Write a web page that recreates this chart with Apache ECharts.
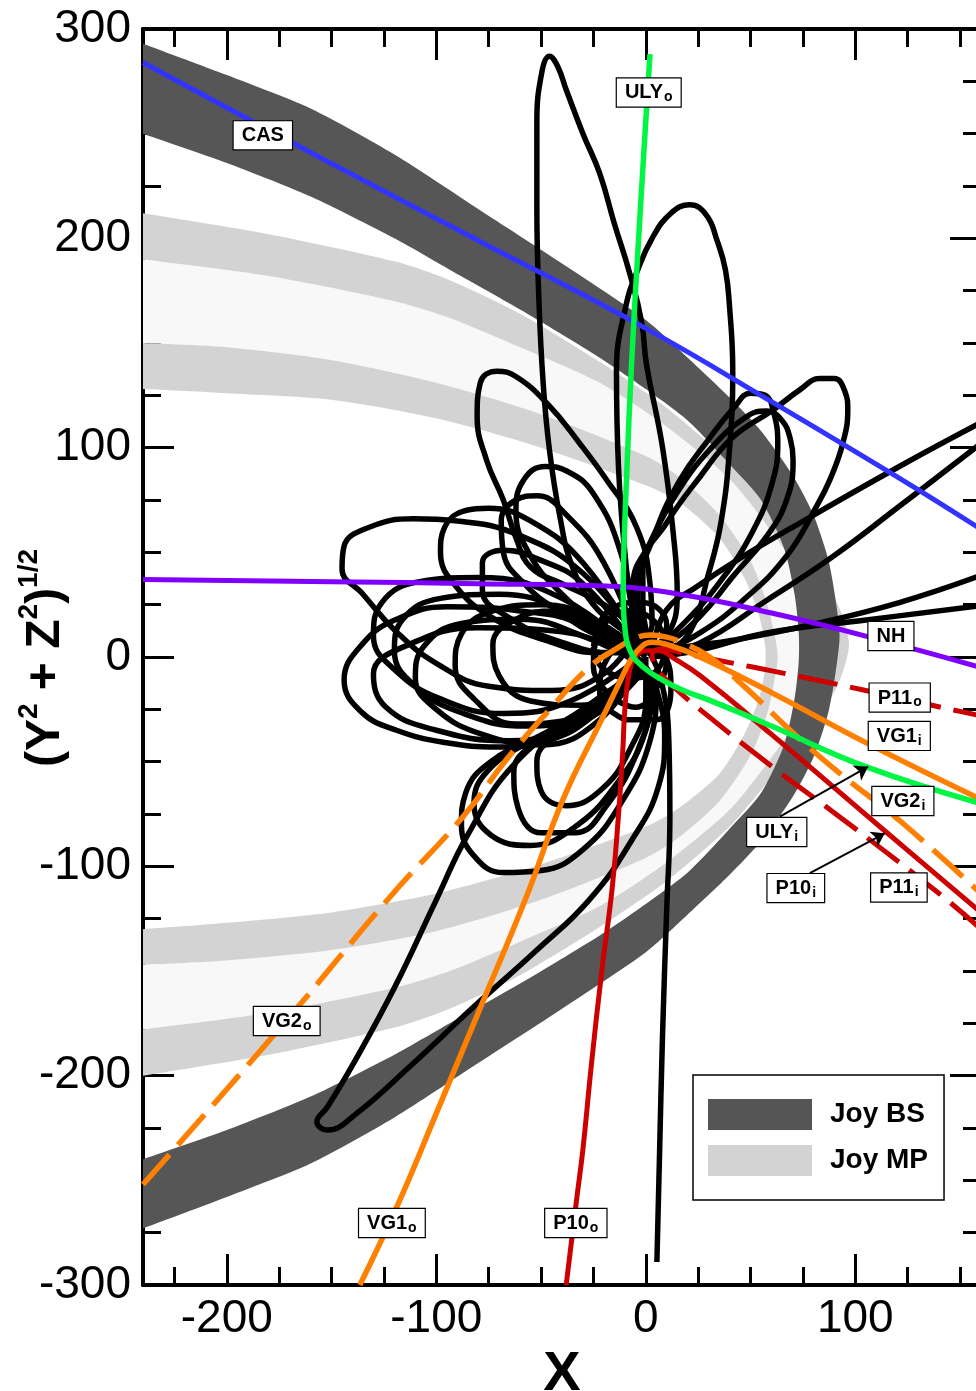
<!DOCTYPE html>
<html><head><meta charset="utf-8">
<script src="https://cdn.jsdelivr.net/npm/echarts@6/dist/echarts.min.js"></script>
<style>html,body{margin:0;padding:0;background:#fff;overflow:hidden;}#c{position:absolute;left:0;top:0;width:976px;height:1391px;}</style>
</head><body><div id="c"></div>
<script>
const FONT = '"Liberation Sans", Arial, Helvetica, sans-serif';

// ---- axis ticks / labels ----
const xLabelVals = [-200, -100, 0, 100];
const xMajorTicks = [-200, -100, 0, 100];
const xMinorTicks = [-225,-200,-175,-150,-125,-100,-75,-50,-25,0,25,50,75,100,125,150];
const yLabelVals = [-300, -200, -100, 0, 100, 200, 300];
const yMajorTicks = [-200, -100, 0, 100, 200];
const yMinorTicks = [-275,-250,-225,-200,-175,-150,-125,-100,-75,-50,-25,0,25,50,75,100,125,150,175,200,225,250,275];

// ---- Joy bow shock band ----
const bsOuterUpper = [[-248,296],[-240,293],[-200,278],[-160,262],[-120,240],[-80,214],[-40,188],[0,161],[20,143],[40,124],[55,108],[70,87],[80,68],[87,47],[90.5,28],[92.5,10]];
const bsOuterLower = [[90.5,-8],[87,-27],[80,-48],[70,-67],[55,-88],[40,-104],[20,-123],[0,-141],[-40,-168],[-80,-194],[-120,-220],[-160,-242],[-200,-258],[-240,-273],[-248,-276]];
const bsInnerUpper = [[-248,253],[-240,250],[-200,236],[-160,220],[-120,200],[-93.6,185],[-60,166],[-22,143],[0,128],[20,113],[41,91],[55,75],[66,52],[71,30],[73,12]];
const bsInnerLower = [[73,-2],[71,-20],[66,-42],[55,-65],[41,-81],[20,-103],[0,-118],[-22,-133],[-60,-156],[-93.6,-175],[-120,-190],[-160,-210],[-200,-226],[-240,-240],[-248,-243]];

// ---- Joy magnetopause bands ----
const mpBigOuter = [[-248,213],[-240,212],[-180,202],[-120,189],[-93.6,180],[-60,164],[-22,141],[10,119],[40,93],[62,67],[82,43],[93,22],[97,6],[93,-10],[82,-31],[62,-55],[40,-81],[10,-107],[-22,-129],[-60,-152],[-93.6,-168],[-120,-177],[-180,-190],[-240,-200],[-248,-201]];
const mpBigInner = [[-248,191],[-240,190],[-180,182],[-120,170],[-93.6,162],[-60,148],[-22,131],[10,110],[40,85],[60,60],[75,38],[84,19],[89,6],[84,-7],[75,-26],[60,-48],[40,-73],[10,-98],[-22,-119],[-60,-136],[-93.6,-150],[-120,-158],[-180,-170],[-240,-178],[-248,-179]];
const mpSmallOuter = [[-248,150],[-240,150],[-200,148],[-151,142],[-100,131],[-50,116],[0,96],[16,86],[35,68],[50,46],[58,25],[62,8],[63,0],[62,-8],[58,-27],[50,-47],[35,-69],[16,-86],[0,-96],[-50,-116],[-100,-131],[-150,-140],[-200,-145],[-240,-147],[-248,-147]];
const mpSmallInner = [[-248,128],[-240,128],[-200,126],[-151,123],[-100,114],[-50,100],[0,82],[16,74],[35,57],[47,38],[54,20],[57,5],[57,-5],[54,-20],[47,-37],[35,-56],[16,-72],[0,-81],[-50,-99],[-100,-113],[-150,-122],[-200,-127],[-240,-130],[-248,-130]];

// ---- black orbits ----
const orbitA = [[0,5],[-10,12],[-25,25],[-35,43],[-41,67],[-46,99],[-49,131],[-51,170],[-52,215],[-52,255],[-49.5,280],[-46,287],[-42,282],[-38,271],[-30,250],[-22,231],[-15,207],[-7.6,183],[-2,160],[0.3,140],[8,100],[13,60],[15,30],[10,10],[0,5]];
const orbitB = [[0,3],[-6,20],[-10,50],[-13,90],[-14,137],[-9,170],[-4.4,183.5],[3,200],[12,212],[21,216],[29,211],[34,199],[38,185],[40,167],[41.5,137],[40,100],[36,65],[30,40],[21,12],[10,4],[0,3]];
const orbitC = [[0,10],[-20,25],[-40,35],[-55,43],[-62,57],[-68,75],[-76,94],[-80.5,115],[-79,131],[-71,136.5],[-62,134],[-47,121],[-31.5,102],[-19,85],[-4.4,62],[2,35],[3,15],[0,10]];
const orbitD = [[3,3],[-1.4,25],[-1.4,43],[9.9,64],[25.8,86],[41.5,105],[60.7,118],[73.5,127.6],[83,133],[90,133],[95,127],[96.4,118],[94,102],[88,85],[81.5,72],[67,48],[46.3,27],[25.8,11.5],[10,4],[3,3]];
const orbitE = [[0,3],[-6,20],[-6,35],[2,54.5],[14.6,78],[30.5,99],[48,114.8],[57.6,117.5],[65,113],[69,104],[70.3,94],[67.2,75],[57.6,57.5],[41.5,38.4],[25.8,19.3],[8,5],[0,3]];
const orbitF = [[0,4],[-4,30],[4,58],[16,84],[30,104],[42,119],[50,126],[57,125],[61,117],[63,102],[60,82],[51,60],[37,38],[20,18],[6,6],[0,4]];
const rayA = [[3,3],[9.9,22.5],[25,34],[41.5,45],[73.5,64],[121,91],[160,112]];
const rayB = [[3,0],[25.8,6.7],[57.6,27],[89.3,48],[121,72],[160,102]];
const rayC = [[3,2],[20,5],[41.5,8],[81.5,16],[121,26],[160,39]];
const rayD = [[3,0],[25.8,3.3],[57.6,11.5],[105.3,17.7],[160,24.5]];
const loop1 = [[-5,10],[-30,40],[-60,58],[-90,65],[-111,66],[-132,62],[-144,53],[-145,42],[-135,30],[-119,12],[-100,-3],[-75,-14],[-45,-16],[-20,-8],[-5,10]];
const loop2 = [[-3,-5],[-30,15],[-60,22],[-95,24],[-119,18],[-135,6.5],[-144,-11],[-136,-26],[-119,-35],[-95,-41],[-71,-43],[-47,-40],[-25,-28],[-3,-5]];
const loop3 = [[-3,5],[-30,45],[-55,65],[-75,71],[-86,70],[-96,62],[-98,50],[-90,33],[-72,18],[-48,8],[-22,2],[-3,5]];
const loop4 = [[-3,5],[-20,45],[-38,68],[-52,77],[-62,75],[-69,65],[-68,50],[-58,35],[-42,22],[-22,10],[-3,5]];
const loop5 = [[-2,5],[-12,50],[-25,78],[-38,89],[-48,91],[-58,85],[-62,70],[-56,50],[-40,30],[-20,14],[-2,5]];
const loop6 = [[-3,2],[-30,35],[-52,47],[-68,51],[-78,45],[-78,32],[-64,18],[-40,7],[-15,2],[-3,2]];
const loop7 = [[-3,0],[-40,28],[-80,38],[-108,36],[-126,26],[-130,10],[-120,-6],[-98,-20],[-68,-27],[-36,-21],[-3,0]];
const loop8 = [[-3,0],[-35,20],[-70,30],[-98,28],[-116,18],[-120,3],[-110,-14],[-87,-27],[-57,-33],[-27,-25],[-3,0]];
const loop9 = [[-3,-3],[-30,10],[-60,18],[-88,16],[-106,5],[-110,-10],[-100,-25],[-78,-37],[-50,-42],[-22,-30],[-3,-3]];
const loop10 = [[0,0],[-25,18],[-50,25],[-73,22],[-88,11],[-91,-4],[-82,-20],[-62,-32],[-36,-30],[-12,-15],[0,0]];
const loop11 = [[0,-5],[-20,-25],[-50,-38],[-74,-50],[-86,-65],[-88,-80],[-82,-95],[-68,-103],[-50,-102],[-30,-92],[-12,-70],[2,-40],[5,-15],[0,-5]];
const loop12 = [[0,-5],[-25,-25],[-55,-40],[-76,-55],[-82,-70],[-74,-85],[-55,-90],[-35,-82],[-15,-62],[0,-35],[3,-12],[0,-5]];
const loop13 = [[0,-5],[-30,-25],[-52,-40],[-63,-55],[-61,-72],[-50,-84],[-34,-84],[-18,-70],[-4,-45],[2,-20],[0,-5]];
const loop14 = [[0,0],[-20,-20],[-40,-35],[-52,-50],[-50,-64],[-38,-71],[-22,-64],[-8,-45],[0,-20],[0,0]];
const loop15 = [[0,0],[-20,15],[-43,22],[-62,18],[-73,6],[-70,-9],[-55,-21],[-31,-23],[-11,-12],[0,0]];
const loop16 = [[0,-3],[-40,12],[-80,14],[-113,6],[-130,-8],[-124,-24],[-100,-35],[-65,-40],[-30,-30],[0,-3]];
const core1 = [[-15,-20],[-25,-5],[-22,12],[-8,22],[6,15],[10,0],[5,-15],[-5,-24],[-15,-20]];
const core2 = [[-10,-30],[-22,-18],[-18,0],[-5,10],[8,2],[12,-15],[5,-30],[-10,-30]];
const core3 = [[-25,5],[-18,22],[-2,26],[10,15],[8,-2],[-5,-10],[-20,-6],[-25,5]];
const loopLong = [[0,-5],[-30,-25],[-63.5,-52],[-85,-85],[-100,-116],[-120,-158],[-140,-195],[-152,-215],[-157,-222],[-152,-226],[-138,-218],[-112,-195],[-82,-167],[-52,-140],[-27,-116],[-7,-88],[6,-62],[9,-38],[5,-15],[0,-5]];
const dropLine = [[0,5],[7,-10],[11,-40],[11.5,-76],[10,-120],[8,-180],[6.5,-240],[5.3,-289]];

// ---- spacecraft trajectories ----
const casPath = [[-240,284],[-160,241],[-80,199],[0,157],[60,122],[120,86],[160,61]];
const nhPath = [[-240,37],[-150,36],[-80,35],[-22,34],[16,30],[60,21],[105,10],[160,-5]];
const ulyPath = [[2,288],[-1,240],[-4,190],[-6.8,140],[-9,90],[-10.5,50],[-10.8,30],[-10,14],[-7,2],[-1,-5],[8,-11],[18,-16],[30,-20.5],[60,-33],[105,-52.4],[160,-70]];
const p10Path = [[160,-122],[114,-83],[60,-37],[26,-9],[14,-1],[6,3],[0,3],[-5,0],[-8,-8],[-10,-25],[-11,-45],[-13,-75],[-16,-110],[-21,-150],[-26,-195],[-30,-235],[-33,-259],[-38,-300]];
const p11Path = [[160,-130],[140,-113],[89.4,-74],[62.4,-54],[25.8,-25],[12,-13],[5,-5],[3,1],[8,4],[17,2],[33.7,-1.4],[67,-8],[105,-16],[150,-26],[160,-28]];
const vg1Path = [[-136.5,-300],[-117.4,-259.4],[-100,-218],[-80,-170],[-57,-114.5],[-39.5,-68],[-20.4,-28.5],[-12,-11],[-7,-1],[-2,5],[3,7],[10,6],[25.8,0],[60,-17],[105.3,-41],[160,-68]];
const vg2Path = [[-240,-252],[-171,-173],[-122,-114.5],[-87,-76],[-66.5,-49],[-45.8,-25],[-26.7,-4.6],[-14,4],[-5,9],[2,10.5],[10,9.5],[17.7,6.7],[30.5,0],[48,-15],[70,-36],[92.6,-55.6],[121,-78],[160,-113]];

// ---- tags ----
const tagNames = ['CAS','ULY','NH','P11','VG1','VG2','ULY','P10','P11','VG2','VG1','P10'];
const tagSubs  = ['','o','','o','i','i','i','i','i','o','o','o'];
const tagX = [-182.8, 1.4, 117, 121.2, 121, 122.7, 62.5, 71.6, 120.8, -171.4, -121.2, -33.4];
const tagY = [249.2, 269.7, 10, -19.4, -37.7, -68.8, -83.6, -110.4, -110.1, -173.9, -270.4, -270.4];
const arrowFrom = [[64,-76.3],[78.3,-103.3]];
const arrowTo = [[106.1,-52.4],[114.1,-84.2]];

// ---- build ----
function xAx(pos, ticks, len, showLabel, showLine, extra) {
  return Object.assign({
    type: 'value', min: -240, max: 160, position: pos,
    axisLine: {show: showLine, onZero: false, lineStyle: {color: '#000', width: 4}},
    axisTick: {show: true, inside: true, length: len, customValues: ticks, lineStyle: {color: '#000', width: 3}},
    axisLabel: {show: showLabel, customValues: xLabelVals, fontSize: 46, color: '#000', fontFamily: FONT, margin: 11},
    splitLine: {show: false}
  }, extra || {});
}
function yAx(pos, ticks, len, showLabel, showLine) {
  return {
    type: 'value', min: -300, max: 300, position: pos,
    axisLine: {show: showLine, onZero: false, lineStyle: {color: '#000', width: 4}},
    axisTick: {show: true, inside: true, length: len, customValues: ticks, lineStyle: {color: '#000', width: 3}},
    axisLabel: {show: showLabel, customValues: yLabelVals, fontSize: 46, color: '#000', fontFamily: FONT, margin: 12},
    splitLine: {show: false}
  };
}

function polySeries(name, pts, color) {
  return {
    type: 'custom', name: name, clip: true, silent: true, data: [[0, 0]],
    renderItem: function (params, api) {
      return {type: 'polygon', shape: {points: pts.map(function (p) { return api.coord(p); }), smooth: 0.25},
        style: {fill: color, stroke: null}};
    }
  };
}
function bandPoly(a, b) { return a.concat(b.slice().reverse()); }

function lineSeries(name, data, color, width, dashed) {
  return {
    type: 'line', name: name, data: data, showSymbol: false, symbol: 'none', smooth: 0.45, silent: true,
    lineStyle: {color: color, width: width, type: dashed ? [40, 13] : 'solid'}
  };
}

const blackOrbits = [orbitA, orbitB, orbitC, orbitD, orbitE, orbitF, rayA, rayB, rayC, rayD,
  loop1, loop2, loop3, loop4, loop5, loop6, loop7, loop8, loop9, loop10, loop11, loop12,
  loop13, loop14, loop15, loop16, core1, core2, core3, loopLong, dropLine];

const series = [];
series.push(polySeries('hatch', bandPoly(mpBigInner, mpSmallOuter), '#f8f8f8'));
series.push(polySeries('Joy MP', bandPoly(mpBigOuter, mpBigInner), '#d3d3d3'));
series.push(polySeries('Joy MP', bandPoly(mpSmallOuter, mpSmallInner), '#d3d3d3'));
series.push(polySeries('Joy BS', bsOuterUpper.concat(bsOuterLower, bsInnerLower.slice().reverse(), bsInnerUpper.slice().reverse()), '#565656'));
blackOrbits.forEach(function (o, i) { series.push(lineSeries('orbit' + i, o, '#000', 5.5, false)); });
series.push(lineSeries('CAS', casPath, '#3333ff', 5, false));
series.push(lineSeries('NH', nhPath, '#8000ff', 5, false));
series.push(lineSeries('P10', p10Path, '#cc0000', 5, false));
series.push(lineSeries('P11', p11Path, '#cc0000', 5, true));
series.push(lineSeries('VG2', vg2Path, '#ff8000', 5.5, true));
series.push(lineSeries('VG1', vg1Path, '#ff8000', 5.5, false));
series.push(lineSeries('ULY', ulyPath, '#00f545', 5.5, false));

const tagData = tagNames.map(function (n, i) { return [tagX[i], tagY[i], i]; });
series.push({
  type: 'custom', name: 'tags', data: tagData, silent: true, z: 10, clip: false,
  renderItem: function (params, api) {
    const i = api.value(2);
    const pt = api.coord([api.value(0), api.value(1)]);
    const txt = '{b|' + tagNames[i] + '}' + (tagSubs[i] ? '{s|' + tagSubs[i] + '}' : '');
    return {
      type: 'text', x: pt[0], y: pt[1],
      style: {
        text: txt, align: 'center', verticalAlign: 'middle',
        backgroundColor: '#ffffff', borderColor: '#000000', borderWidth: 1.2, padding: [3, 8, 2, 8],
        rich: {
          b: {fontSize: 20, fontWeight: 'bold', fontFamily: FONT, fill: '#000', lineHeight: 23, verticalAlign: 'middle'},
          s: {fontSize: 14, fontWeight: 'bold', fontFamily: FONT, fill: '#000', lineHeight: 14, verticalAlign: 'bottom', padding: [0, 0, 0, 1]}
        }
      }
    };
  },
  markLine: {
    silent: true, symbol: ['none', 'arrow'], symbolSize: 13, animation: false,
    label: {show: false},
    lineStyle: {color: '#000', width: 2, type: 'solid', opacity: 1},
    data: arrowFrom.map(function (f, i) { return [{coord: f}, {coord: arrowTo[i]}]; })
  }
});

const option = {
  animation: false,
  backgroundColor: '#fff',
  textStyle: {fontFamily: FONT},
  grid: {left: 143, top: 29, right: -5, bottom: 106, containLabel: false, outerBoundsMode: 'none'},
  xAxis: [
    xAx('bottom', xMajorTicks, 31, true, true, {name: 'X', nameLocation: 'middle', nameGap: 52,
      nameTextStyle: {fontSize: 56, fontWeight: 'bold', color: '#000', fontFamily: FONT}}),
    xAx('bottom', xMinorTicks, 18, false, false),
    xAx('top', xMajorTicks, 31, false, true),
    xAx('top', xMinorTicks, 18, false, false)
  ],
  yAxis: [
    yAx('left', yMajorTicks, 31, true, true),
    yAx('left', yMinorTicks, 18, false, false),
    yAx('right', yMajorTicks, 31, false, true),
    yAx('right', yMinorTicks, 18, false, false)
  ],
  legend: {
    left: 693, top: 1075, orient: 'vertical', selectedMode: false,
    padding: [24, 16, 24, 15], itemWidth: 104, itemHeight: 31, itemGap: 15,
    borderColor: '#000', borderWidth: 1.5, backgroundColor: '#fff', borderRadius: 0,
    textStyle: {fontSize: 28, fontWeight: 'bold', color: '#000', fontFamily: FONT, padding: [0, 0, 0, 13], lineHeight: 31},
    data: [
      {name: 'Joy BS', icon: 'rect', itemStyle: {color: '#555555', borderWidth: 0}},
      {name: 'Joy MP', icon: 'rect', itemStyle: {color: '#d3d3d3', borderWidth: 0}}
    ]
  },
  graphic: [{
    type: 'text', x: 46, y: 658, rotation: Math.PI / 2, silent: true,
    style: {
      text: '{m|(Y}{s|2}{m| + Z}{s|2}{m|)}{s|1/2}', align: 'center', verticalAlign: 'middle', fill: '#000',
      rich: {
        m: {fontSize: 48, fontWeight: 'bold', fontFamily: FONT, fill: '#000', lineHeight: 62, verticalAlign: 'middle'},
        s: {fontSize: 28, fontWeight: 'bold', fontFamily: FONT, fill: '#000', lineHeight: 28, verticalAlign: 'top'}
      }
    }
  }],
  series: series
};

const chart = echarts.init(document.getElementById('c'), null, {renderer: 'canvas', width: 976, height: 1391});
chart.setOption(option);
</script>
</body></html>
